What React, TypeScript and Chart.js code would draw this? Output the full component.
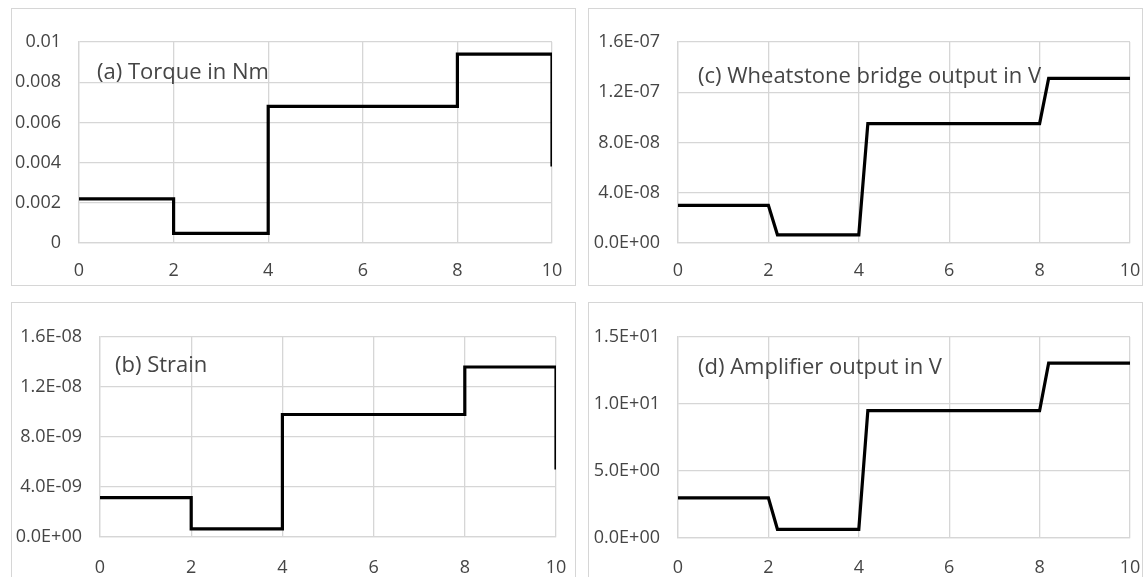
import React, { useEffect, useRef } from "react";
import { Chart, registerables } from "chart.js";

Chart.register(...registerables);

// ---- data ----
const xTicks = [0, 2, 4, 6, 8, 10];

const torqueX = [0, 2, 2, 4, 4, 8, 8, 10, 10];
const torqueY = [0.0022, 0.0022, 0.00048, 0.00048, 0.0068, 0.0068, 0.0094, 0.0094, 0.0038];
const torqueTicks = ["0", "0.002", "0.004", "0.006", "0.008", "0.01"];

const strainX = [0, 2, 2, 4, 4, 8, 8, 10, 10];
const strainY = [3.15e-9, 3.15e-9, 0.65e-9, 0.65e-9, 9.8e-9, 9.8e-9, 13.6e-9, 13.6e-9, 5.4e-9];
const strainTicks = ["0.0E+00", "4.0E-09", "8.0E-09", "1.2E-08", "1.6E-08"];

const bridgeX = [0, 2, 2.2, 4, 4.2, 8, 8.2, 10];
const bridgeY = [3.0e-8, 3.0e-8, 0.65e-8, 0.65e-8, 9.5e-8, 9.5e-8, 1.31e-7, 1.31e-7];
const bridgeTicks = ["0.0E+00", "4.0E-08", "8.0E-08", "1.2E-07", "1.6E-07"];

const ampX = [0, 2, 2.2, 4, 4.2, 8, 8.2, 10];
const ampY = [3.0, 3.0, 0.65, 0.65, 9.5, 9.5, 13.05, 13.05];
const ampTicks = ["0.0E+00", "5.0E+00", "1.0E+01", "1.5E+01"];

const GRID = "#d6d6d6";
const TEXT = "#454545";
const FONT = "'Open Sans', sans-serif";

type PanelProps = {
  box: { L: number; T: number; W: number; H: number };
  plot: { left: number; right: number; top: number; bottom: number };
  xs: number[];
  ys: number[];
  yMax: number;
  yStep: number;
  yLabels: string[];
  title: string;
  titleDx: number;
  titleDy: number;
  xPad: number;
};

function Panel(p: PanelProps) {
  const ref = useRef<HTMLCanvasElement | null>(null);
  useEffect(() => {
    if (!ref.current) return;
    const { box, plot } = p;
    const data = p.xs.map((x, i) => ({ x, y: p.ys[i] }));
    const titlePlugin = {
      id: "innerTitle",
      afterDatasetsDraw(chart: any) {
        const ctx = chart.ctx;
        const a = chart.chartArea;
        ctx.save();
        ctx.font = `22px ${FONT}`;
        ctx.fillStyle = TEXT;
        ctx.textBaseline = "middle";
        ctx.textAlign = "left";
        ctx.fillText(p.title, a.left + p.titleDx, a.top + p.titleDy);
        ctx.restore();
      },
    };
    const chart = new Chart(ref.current, {
      type: "line",
      data: {
        datasets: [
          {
            data,
            borderColor: "#000",
            borderWidth: 3.2,
            pointRadius: 0,
            tension: 0,
            fill: false,
          },
        ],
      },
      options: {
        responsive: false,
        animation: false,
        devicePixelRatio: 1,
        layout: {
          padding: {
            left: 0,
            top: plot.top - box.T,
            right: box.L + box.W - plot.right,
            bottom: 0,
          },
        },
        plugins: { legend: { display: false }, tooltip: { enabled: false }, title: { display: false } },
        scales: {
          x: {
            type: "linear",
            min: 0,
            max: 10,
            afterBuildTicks: (s: any) => {
              s.ticks = xTicks.map((v) => ({ value: v }));
            },
            afterFit: (s: any) => {
              s.height = box.T + box.H - plot.bottom;
              s.paddingLeft = 0;
              s.paddingRight = 0;
            },
            grid: { color: GRID, lineWidth: 1.3, drawTicks: false },
            border: { color: GRID, width: 1.3 },
            ticks: {
              color: TEXT,
              font: { family: FONT, size: 18 },
              padding: p.xPad,
              maxRotation: 0,
              callback: (v: any) => String(v),
            },
          },
          y: {
            type: "linear",
            min: 0,
            max: p.yMax,
            afterBuildTicks: (s: any) => {
              s.ticks = p.yLabels.map((_, i) => ({ value: i * p.yStep }));
            },
            afterFit: (s: any) => {
              s.width = plot.left - box.L;
              s.paddingTop = 0;
              s.paddingBottom = 0;
            },
            grid: { color: GRID, lineWidth: 1.3, drawTicks: false },
            border: { color: GRID, width: 1.3 },
            ticks: {
              color: TEXT,
              font: { family: FONT, size: 18 },
              padding: 18,
              callback: (_v: any, i: number) => p.yLabels[i],
            },
          },
        },
      },
      plugins: [titlePlugin],
    } as any);
    return () => chart.destroy();
  }, []);
  const { box } = p;
  return (
    <>
      <div
        style={{
          position: "absolute",
          left: box.L,
          top: box.T,
          width: box.W,
          height: box.H,
          border: `1.5px solid ${GRID}`,
          boxSizing: "border-box",
          background: "#fff",
        }}
      />
      <canvas
        ref={ref}
        width={box.W}
        height={box.H}
        style={{ position: "absolute", left: box.L, top: box.T, width: box.W, height: box.H }}
      />
    </>
  );
}

export default function App() {
  return (
    <div style={{ position: "absolute", left: 0, top: 0, width: 1147, height: 577, overflow: "hidden", background: "#fff" }}>
      <Panel
        box={{ L: 11, T: 8, W: 565, H: 278 }}
        plot={{ left: 79, right: 552, top: 42, bottom: 243 }}
        xs={torqueX}
        ys={torqueY}
        yMax={0.01}
        yStep={0.002}
        yLabels={torqueTicks}
        title="(a) Torque in Nm"
        titleDx={18}
        titleDy={31}
        xPad={17}
      />
      <Panel
        box={{ L: 588, T: 8, W: 555, H: 278 }}
        plot={{ left: 678, right: 1130, top: 42, bottom: 243 }}
        xs={bridgeX}
        ys={bridgeY}
        yMax={1.6e-7}
        yStep={4e-8}
        yLabels={bridgeTicks}
        title="(c) Wheatstone bridge output in V"
        titleDx={20}
        titleDy={35}
        xPad={17}
      />
      <Panel
        box={{ L: 11, T: 302, W: 565, H: 280 }}
        plot={{ left: 100, right: 556, top: 337, bottom: 537 }}
        xs={strainX}
        ys={strainY}
        yMax={1.6e-8}
        yStep={4e-9}
        yLabels={strainTicks}
        title="(b) Strain"
        titleDx={15}
        titleDy={29}
        xPad={20}
      />
      <Panel
        box={{ L: 588, T: 302, W: 555, H: 280 }}
        plot={{ left: 678, right: 1130, top: 337, bottom: 538 }}
        xs={ampX}
        ys={ampY}
        yMax={15}
        yStep={5}
        yLabels={ampTicks}
        title="(d) Amplifier output in V"
        titleDx={20}
        titleDy={31}
        xPad={19}
      />
    </div>
  );
}
